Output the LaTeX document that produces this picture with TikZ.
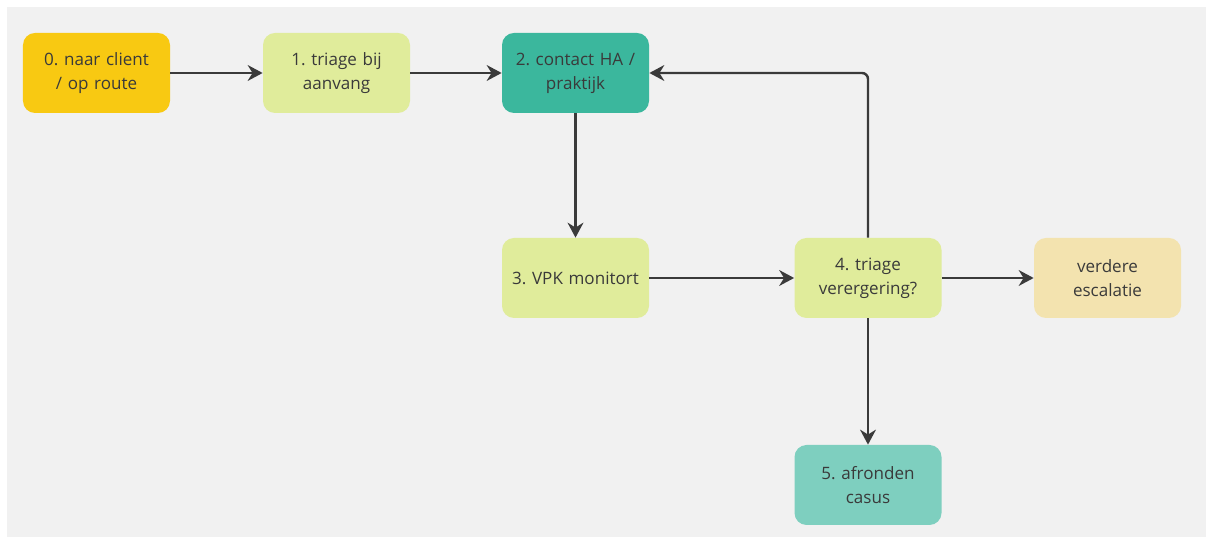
\documentclass[tikz,border=0pt]{standalone}
\usepackage{fontspec}
\setmainfont{Open Sans}
\frenchspacing
\usetikzlibrary{arrows.meta}
\definecolor{paneel}{HTML}{F1F1F1}
\definecolor{geel}{HTML}{F8C912}
\definecolor{lichtgroen}{HTML}{E0EC9B}
\definecolor{teal}{HTML}{3BB79D}
\definecolor{lichtteal}{HTML}{7ECFBF}
\definecolor{zand}{HTML}{F3E3AF}
\definecolor{pijl}{HTML}{3A3A3A}
\definecolor{tekst}{HTML}{3A3A3A}
\tikzstyle{stap}=[fill=lichtgroen, text=tekst, text width=2.8cm, align=center,
  minimum width=2.94cm, minimum height=1.6cm, rounded corners=0.24cm,
  inner sep=0pt, font=\fontsize{9.7}{13.7}\selectfont]
\tikzstyle{line} = [draw, line width=1.4pt, color=pijl,
  -{Stealth[length=8.5pt,width=9pt]}]

\begin{document}
\begin{tikzpicture}
  \useasboundingbox (0,0) rectangle (24.12,10.74);
  \fill[paneel] (0.14,0) rectangle (24.12,10.6);

  % Draw diagram elements
  \path (1.93,9.28) node (p0) [stap, fill=geel] {0. naar client\\ / op route};
  \path (p0)+(4.8,0) node (p1) [stap] {1. triage bij\\ aanvang};
  \path (p1)+(4.78,0) node (p2) [stap, fill=teal] {2. contact HA /\\ praktijk};
  \path (p2)+(0,-4.1) node (p3) [stap] {3. VPK monitort};
  \path (p3)+(5.85,0) node (p4) [stap] {4. triage\\ verergering?};
  \path (p4)+(4.79,0) node (p5) [stap, fill=zand] {verdere\\ escalatie};
  \path (p4)+(0,-4.14) node (p6) [stap, fill=lichtteal] {5. afronden\\ casus};

  % Draw arrows between elements
  \path [line] (p0.east) -- (p1.west);
  \path [line] (p1.east) -- (p2.west);
  \path [line] (p2.south) -- (p3.north);
  \path [line] (p3.east) -- (p4.west);
  \path [line] (p4.east) -- (p5.west);
  \path [line, rounded corners=0.12cm] (p4.north) |- (p2.east);
  \path [line] (p4.south) -- (p6.north);
\end{tikzpicture}
\end{document}
